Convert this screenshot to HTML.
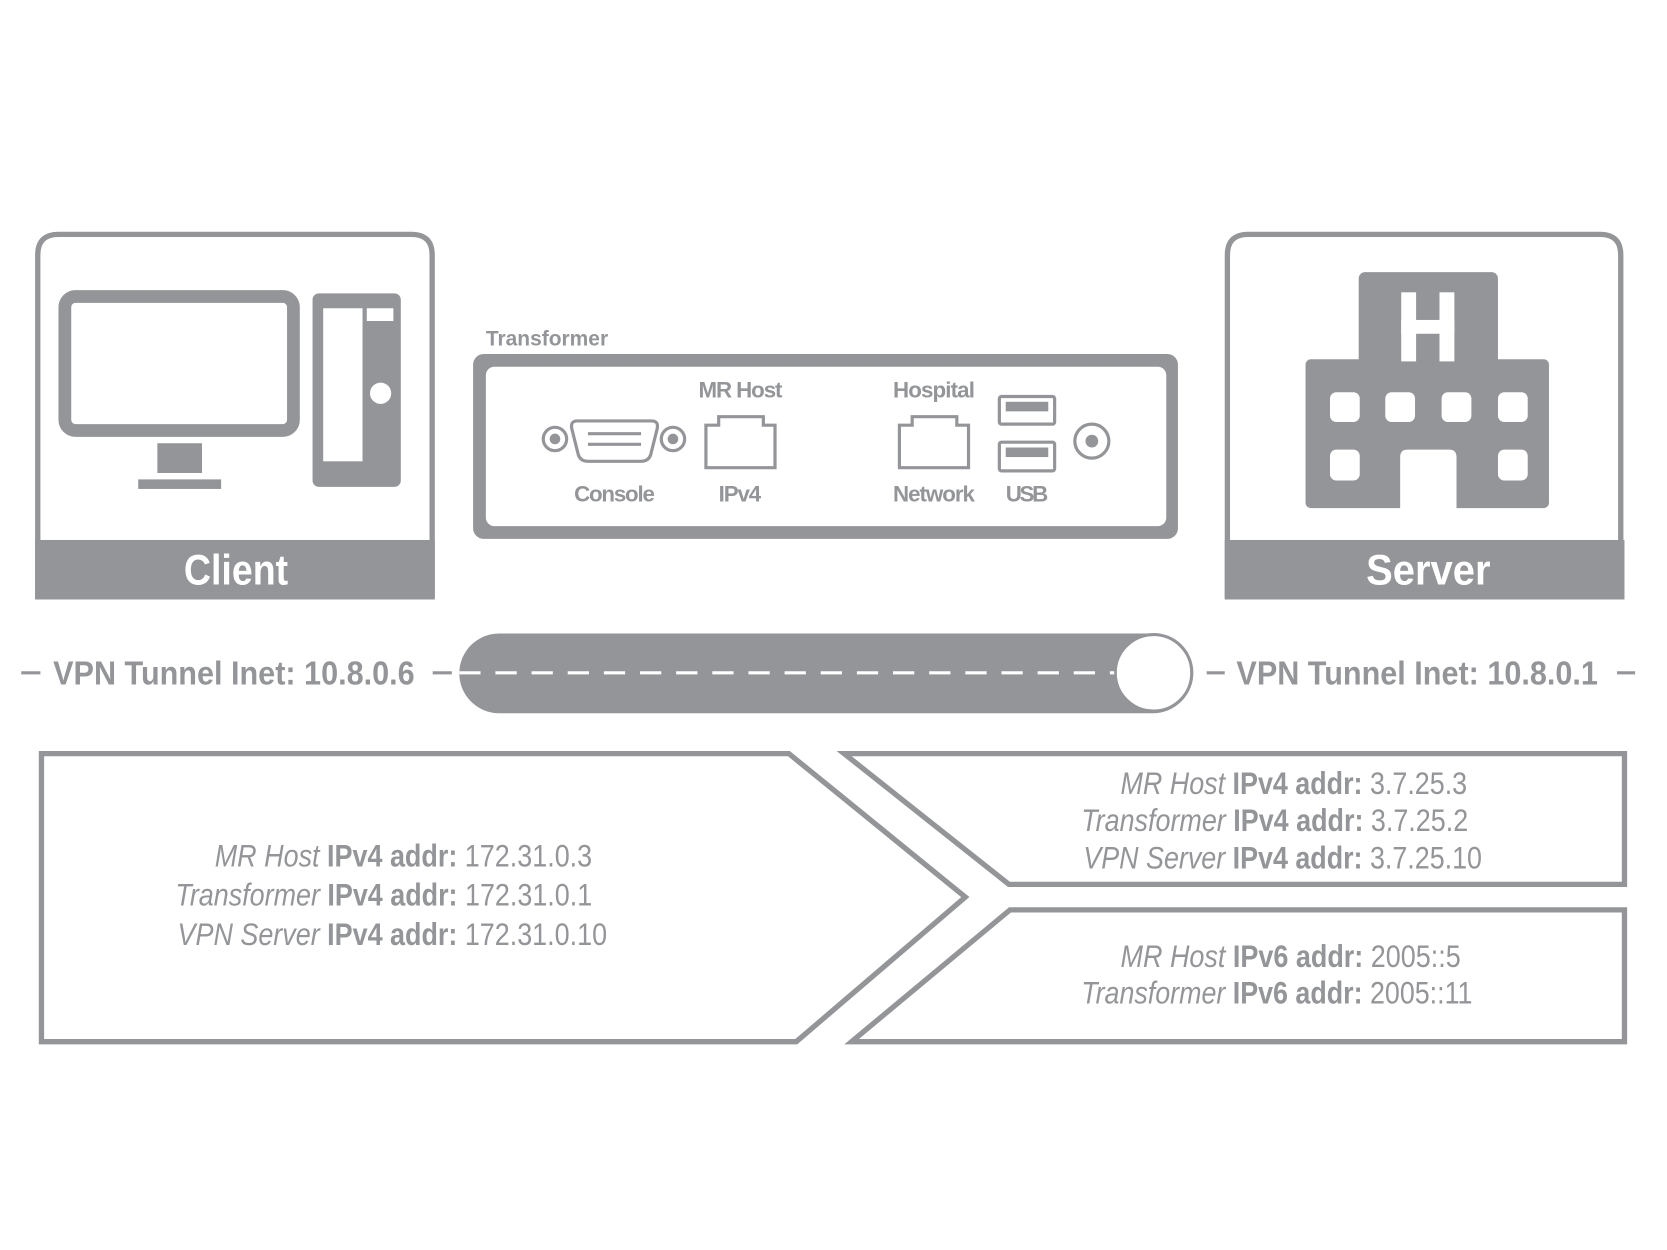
<!DOCTYPE html>
<html><head><meta charset="utf-8"><style>html,body{margin:0;padding:0;background:#fff}svg{display:block}</style></head>
<body>
<svg width="1667" height="1250" viewBox="0 0 1568 1176" preserveAspectRatio="none" xmlns="http://www.w3.org/2000/svg" font-family="Liberation Sans, sans-serif" fill="#939598">
<g fill="none" stroke="#939598">
<path d="M35.5 563 V240 Q35.5 220.5 55 220.5 H387 Q406.5 220.5 406.5 240 V563" stroke-width="5"/>
<path d="M1154.5 563 V240 Q1154.5 220.5 1174 220.5 H1505 Q1524.5 220.5 1524.5 240 V563" stroke-width="5"/>
<rect x="61" y="279" width="215" height="126" rx="10" stroke-width="12"/>
</g>
<rect x="33" y="508" width="376" height="56"/>
<rect x="1152" y="508" width="376" height="56"/>
<text x="173" y="550" font-size="40" font-weight="bold" fill="#fff" textLength="98" lengthAdjust="spacingAndGlyphs">Client</text>
<text x="1285" y="550" font-size="40" font-weight="bold" fill="#fff" textLength="117" lengthAdjust="spacingAndGlyphs">Server</text>
<rect x="148" y="417" width="42" height="28"/>
<rect x="130" y="451" width="78" height="9"/>
<rect x="294" y="276" width="83" height="182" rx="6"/>
<rect x="304" y="290" width="37" height="144" fill="#fff"/>
<rect x="345" y="290" width="25" height="12" fill="#fff"/>
<circle cx="358" cy="370" r="10" fill="#fff"/>
<rect x="1278" y="256" width="131" height="100" rx="6"/>
<rect x="1228" y="338" width="229" height="140" rx="5"/>
<path d="M1317 479 V430 Q1317 423 1324 423 H1363 Q1370 423 1370 430 V479 Z" fill="#fff"/>
<rect x="1318" y="275" width="14" height="65" fill="#fff"/>
<rect x="1354" y="275" width="14" height="65" fill="#fff"/>
<rect x="1318" y="301" width="50" height="13" fill="#fff"/>
<g fill="#fff">
<rect x="1251" y="369" width="28" height="28" rx="6"/>
<rect x="1303" y="369" width="28" height="28" rx="6"/>
<rect x="1356" y="369" width="28" height="28" rx="6"/>
<rect x="1409" y="369" width="28" height="28" rx="6"/>
<rect x="1251" y="423" width="28" height="29" rx="6"/>
<rect x="1409" y="423" width="28" height="29" rx="6"/>
</g>
<text x="457" y="325" font-size="20" font-weight="bold" textLength="115" lengthAdjust="spacingAndGlyphs">Transformer</text>
<rect x="445" y="333" width="663" height="174" rx="10"/>
<rect x="457" y="345" width="640" height="150" rx="8" fill="#fff"/>
<g fill="none" stroke="#939598" stroke-width="3">
<path d="M543 396 H613 Q620 396 618 404 L612 428 Q610 434 603 434 H553 Q546 434 544 428 L538 404 Q536 396 543 396 Z"/>
<circle cx="522" cy="413" r="11"/><circle cx="633" cy="413" r="11"/>
<path d="M664 440 V400 H676 V392 H718 V400 H729 V440 Z"/>
<path d="M846 440 V400 H858 V392 H900 V400 H911 V440 Z"/>
<rect x="940" y="373" width="52" height="26" rx="2"/>
<rect x="940" y="416" width="52" height="27" rx="2"/>
<circle cx="1027" cy="415" r="16"/>
</g>
<line x1="553" y1="408" x2="603" y2="408" stroke="#939598" stroke-width="3"/>
<line x1="553" y1="418" x2="603" y2="418" stroke="#939598" stroke-width="3"/>
<circle cx="522" cy="413" r="5"/><circle cx="633" cy="413" r="5"/><circle cx="1027" cy="415" r="6"/>
<rect x="946" y="378" width="40" height="9"/><rect x="946" y="421" width="40" height="9"/>
<g font-size="21" font-weight="bold" lengthAdjust="spacingAndGlyphs">
<text x="540" y="472" textLength="76">Console</text>
<text x="657" y="374" textLength="79">MR Host</text>
<text x="676" y="472" textLength="40">IPv4</text>
<text x="840" y="374" textLength="77">Hospital</text>
<text x="840" y="472" textLength="77">Network</text>
<text x="946" y="472" textLength="40">USB</text>
</g>
<rect x="432" y="596" width="690" height="75" rx="37.5"/>
<ellipse cx="1085" cy="633" rx="36" ry="36" fill="#fff" stroke="#939598" stroke-width="3"/>
<line x1="432" y1="633" x2="1048" y2="633" stroke="#fff" stroke-width="3" stroke-dasharray="20 14"/>
<g stroke="#939598" stroke-width="3">
<line x1="20" y1="633" x2="38" y2="633"/><line x1="407" y1="633" x2="425" y2="633"/>
<line x1="1135" y1="633" x2="1152" y2="633"/><line x1="1521" y1="633" x2="1538" y2="633"/>
</g>
<text x="50" y="644" font-size="31" font-weight="bold" textLength="340" lengthAdjust="spacingAndGlyphs">VPN Tunnel Inet: 10.8.0.6</text>
<text x="1163" y="644" font-size="31" font-weight="bold" textLength="340" lengthAdjust="spacingAndGlyphs">VPN Tunnel Inet: 10.8.0.1</text>
<g fill="none" stroke="#939598" stroke-width="5">
<polygon points="39,709 742,709 908,844 749,980 39,980"/>
<polygon points="794,709 1528,709 1528,832 949,832"/>
<polygon points="950,856 1528,856 1528,980 801,980"/>
</g>
<g font-size="30">
<text x="202" y="815" textLength="355" lengthAdjust="spacingAndGlyphs"><tspan font-style="italic">MR Host </tspan><tspan font-weight="bold">IPv4 addr: </tspan>172.31.0.3</text>
<text x="165" y="852" textLength="392" lengthAdjust="spacingAndGlyphs"><tspan font-style="italic">Transformer </tspan><tspan font-weight="bold">IPv4 addr: </tspan>172.31.0.1</text>
<text x="167" y="889" textLength="404" lengthAdjust="spacingAndGlyphs"><tspan font-style="italic">VPN Server </tspan><tspan font-weight="bold">IPv4 addr: </tspan>172.31.0.10</text>
<text x="1054" y="747" textLength="326" lengthAdjust="spacingAndGlyphs"><tspan font-style="italic">MR Host </tspan><tspan font-weight="bold">IPv4 addr: </tspan>3.7.25.3</text>
<text x="1017" y="782" textLength="364" lengthAdjust="spacingAndGlyphs"><tspan font-style="italic">Transformer </tspan><tspan font-weight="bold">IPv4 addr: </tspan>3.7.25.2</text>
<text x="1019" y="817" textLength="375" lengthAdjust="spacingAndGlyphs"><tspan font-style="italic">VPN Server </tspan><tspan font-weight="bold">IPv4 addr: </tspan>3.7.25.10</text>
<text x="1054" y="910" textLength="320" lengthAdjust="spacingAndGlyphs"><tspan font-style="italic">MR Host </tspan><tspan font-weight="bold">IPv6 addr: </tspan>2005::5</text>
<text x="1017" y="944" textLength="368" lengthAdjust="spacingAndGlyphs"><tspan font-style="italic">Transformer </tspan><tspan font-weight="bold">IPv6 addr: </tspan>2005::11</text>
</g>
</svg>
</body></html>
